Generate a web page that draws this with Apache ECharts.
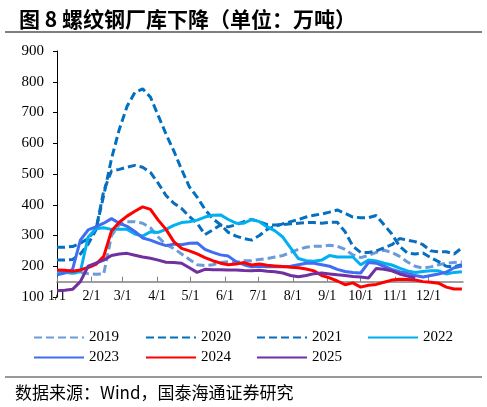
<!DOCTYPE html>
<html><head><meta charset="utf-8">
<script src="https://cdn.jsdelivr.net/npm/echarts@6/dist/echarts.min.js"></script>
<style>html,body{margin:0;padding:0;background:#fff}#c{width:487px;height:407px}</style>
</head><body><div id="c"></div>
<script>
// Weekly observations: day of year (0 = 1/1)
const weekDays = Array.from({length: 53}, (_, i) => i * 7);
const monthTickDays = [0, 31, 59, 90, 120, 151, 181, 212, 243, 273, 304, 334];
const monthLabels = ['1/1','2/1','3/1','4/1','5/1','6/1','7/1','8/1','9/1','10/1','11/1','12/1'];
const yearNames = ['2019','2020','2021','2022','2023','2024','2025'];

const v2019 = [180,180,178,180,176,174,175,300,335,345,345,340,325,295,270,258,240,222,205,202,205,212,215,212,218,218,222,225,230,235,245,255,262,265,265,268,265,255,237,228,235,245,252,245,232,214,200,194,198,205,210,212,214];
const v2020 = [262,262,264,275,290,320,430,550,645,720,765,777,750,690,630,575,515,458,425,385,355,335,310,298,290,285,300,320,330,338,345,352,360,366,370,376,383,372,360,358,358,365,335,305,265,243,240,243,228,215,200,198,205];
const v2021 = [220,220,222,240,272,318,445,510,515,522,528,522,505,470,430,405,388,362,340,303,318,334,328,335,345,352,345,335,334,335,338,340,342,342,340,343,343,312,265,245,245,250,260,270,290,285,280,270,250,247,247,240,260];
const v2022 = [180,180,178,182,295,322,325,320,320,320,305,298,312,310,320,333,342,345,350,360,366,367,352,340,340,352,345,328,315,295,260,225,218,216,220,235,230,230,230,205,220,217,210,204,194,185,180,183,185,185,175,180,182];
const v2023 = [172,178,190,285,318,328,340,355,340,330,313,292,285,275,267,272,270,275,276,255,245,237,233,215,205,198,200,198,198,198,200,205,210,210,205,200,190,183,180,178,212,210,200,190,182,177,170,165,170,175,181,195,201];
const v2024 = [188,187,184,188,196,206,232,315,343,363,379,393,385,350,320,280,258,250,240,228,218,210,205,207,212,204,207,203,201,199,197,195,191,185,170,162,152,140,146,132,138,141,148,155,158,157,155,150,148,145,132,126,126];
const v2025 = [120,122,125,150,200,210,220,235,240,242,236,230,226,220,213,212,210,195,180,190,189,189,188,188,186,185,187,184,182,178,170,166,170,176,178,175,172,170,167,165,162,193,190,185,175,168,162,null,null,null,null,null,null];

const yearValues = [v2019, v2020, v2021, v2022, v2023, v2024, v2025];
const colors = ['#6b9bd8','#0070c0','#0b6dbd','#00b0f0','#3f6ff0','#ff0000','#7030a0'];
const lineTypes = [[8,4],[8,4],[8,4],'solid','solid','solid','solid'];

const yMin = 100, yMax = 900, xCross = 150;
const gridTop = 51, gridBottom = 110;
const gridH = 407 - gridTop - gridBottom;
const axisOffset = -(xCross - yMin) / (yMax - yMin) * gridH;

const serif = 'Liberation Serif';
const legendPos = [[33,330],[145,330],[256,330],[367,330],[33,350],[145,350],[256,350]];

const chart = echarts.init(document.getElementById('c'), null, {renderer:'canvas'});
chart.setOption({
  animation: false,
  backgroundColor: '#fff',
  title: {
    text: '图 8 螺纹钢厂库下降（单位：万吨）',
    left: 14, top: 4,
    textStyle: {fontFamily: 'Noto Sans CJK SC', fontWeight: 'bold', fontSize: 21, color: '#000'}
  },
  graphic: [
    {type:'line', shape:{x1:5,y1:32,x2:482,y2:32}, style:{stroke:'#000', lineWidth:1.2}},
    {type:'line', shape:{x1:5,y1:377,x2:482,y2:377}, style:{stroke:'#333', lineWidth:1}},
    {type:'text', left:15, top:384, style:{text:'数据来源：Wind，国泰海通证券研究', fontFamily:'Noto Sans CJK SC', fontSize:17, fill:'#000'}}
  ],
  legend: yearNames.map((n, i) => ({
    data: [n], left: legendPos[i][0], top: legendPos[i][1],
    itemWidth: 50, itemHeight: 14, itemGap: 5, padding: 0,
    itemStyle: {color: 'transparent', borderWidth: 0, opacity: 0},
    textStyle: {fontFamily: serif, fontSize: 15, color: '#000'}
  })),
  grid: {left: 57, right: 24, top: gridTop, bottom: gridBottom, containLabel: false},
  xAxis: {
    type: 'value', min: 0, max: 365, offset: axisOffset,
    axisLine: {onZero: false, lineStyle: {color: '#808080', width: 1.5}},
    axisTick: {show: true, inside: true, length: 5, customValues: monthTickDays, lineStyle:{color:'#808080'}},
    axisLabel: {customValues: monthTickDays, margin: 8, fontFamily: serif, fontSize: 14, color: '#000',
      formatter: v => monthLabels[monthTickDays.indexOf(Math.round(v))] || ''},
    splitLine: {show: false}
  },
  yAxis: {
    type: 'value', min: yMin, max: yMax, interval: 100,
    axisLine: {show: true, lineStyle: {color: '#000', width: 1}},
    axisTick: {show: true, inside: false, length: 4, lineStyle:{color:'#000'}},
    axisLabel: {margin: 13, fontFamily: serif, fontSize: 15, color: '#000'},
    splitLine: {show: false}
  },
  series: yearNames.map((n, i) => ({
    name: n, type: 'line', symbol: 'none', smooth: false,
    data: weekDays.map((d, k) => [d, yearValues[i][k]]).filter(p => p[1] !== null),
    lineStyle: {color: colors[i], width: 3, type: lineTypes[i]},
    itemStyle: {color: colors[i]}
  }))
});
</script></body></html>
